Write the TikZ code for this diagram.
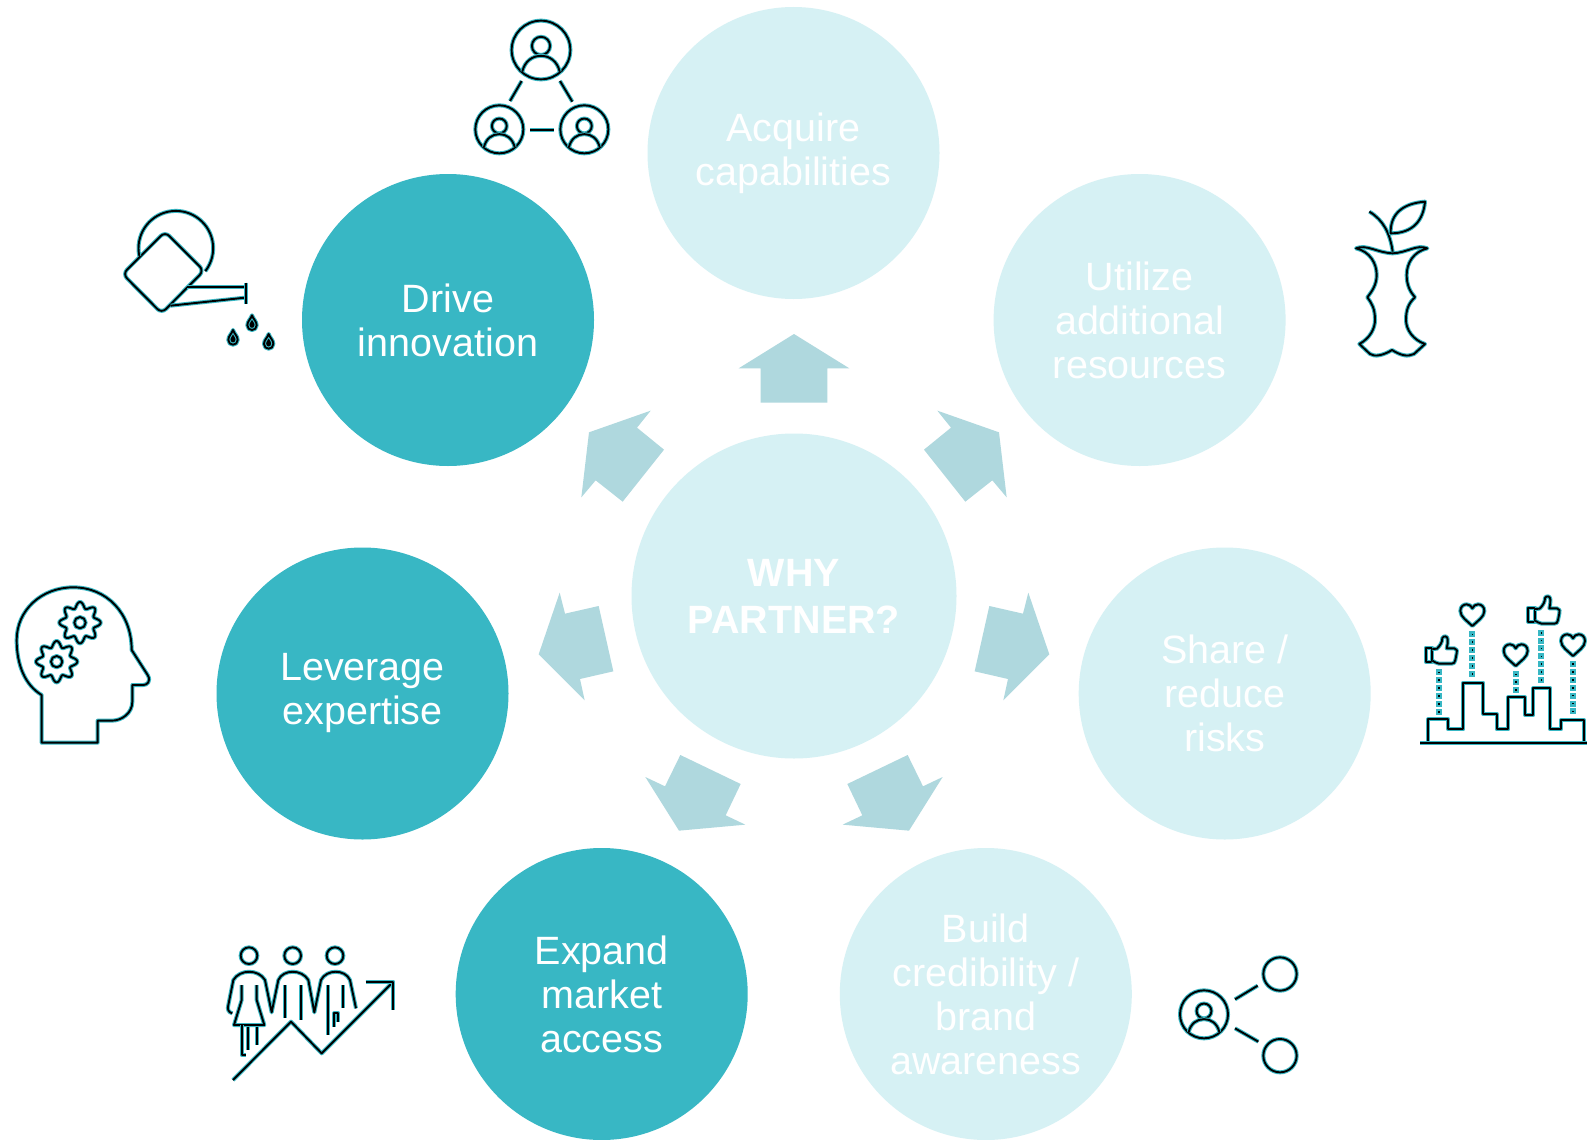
\documentclass[tikz,border=0pt]{standalone}
\usepackage{fontspec}
\setmainfont{Liberation Sans}
\definecolor{tealdark}{HTML}{38B7C4}
\definecolor{teallight}{HTML}{D6F1F4}
\definecolor{arrowblue}{HTML}{AFD8DE}
\definecolor{halo}{HTML}{38B7C4}
\tikzset{
  bubble/.style={circle,minimum size=292pt,inner sep=0pt,outer sep=0pt,align=center,text=white,
    font=\fontsize{39.5}{44}\selectfont},
  bubbleon/.style={bubble,fill=tealdark},
  bubbleoff/.style={bubble,fill=teallight},
  centerbubble/.style={circle,minimum size=325pt,inner sep=0pt,outer sep=0pt,align=center,fill=teallight,
    text=white,font=\fontsize{39.5}{47}\selectfont\bfseries},
  blockarrow/.style={fill=arrowblue},
  ico/.style={draw=halo,double=black,double distance=1.9pt,line width=1.05pt,line join=round},
  zoomed/.style={x=.33333pt,y=-.33333pt},
}
\newcommand{\usericon}[3]{%
  \begin{scope}[shift={(#1,#2)},scale=#3]
    \draw[ico] (0,0) circle (1);
    \draw[ico] (0,-.14) circle (.31);
    \draw[ico] (-.64,.74) .. controls (-.55,.38) and (-.3,.2) .. (0,.2) .. controls (.3,.2) and (.55,.38) .. (.64,.74);
  \end{scope}}
\newcommand{\hearticon}[2]{%
  \begin{scope}[shift={(#1,#2)}]
    \draw[ico] (0,33) .. controls (-15,18) and (-36,6) .. (-36,-12) .. controls (-36,-26) and (-26,-32) .. (-17,-32)
      .. controls (-9,-32) and (-3,-27) .. (0,-20) .. controls (3,-27) and (9,-32) .. (17,-32)
      .. controls (26,-32) and (36,-26) .. (36,-12) .. controls (36,6) and (15,18) .. (0,33) -- cycle;
  \end{scope}}
\newcommand{\thumbicon}[2]{%
  \begin{scope}[shift={(#1,#2)}]
    \draw[ico] (92,203) rectangle (112,245);
    \draw[ico] (112,207) -- (126,206) .. controls (136,196) and (142,186) .. (142,174)
      .. controls (146,166) and (158,168) .. (158,178) .. controls (159,188) and (157,196) .. (155,205)
      -- (178,205) .. controls (187,206) and (187,214) .. (185,220) -- (181,240) .. controls (180,248) and (176,251) .. (170,251)
      -- (132,251) .. controls (124,251) and (118,244) .. (112,242);
  \end{scope}}
\newcommand{\dotcolumn}[3]{%
  \foreach \k in {1,...,#3}{
    \fill[halo] ({#1-9},{#2+(\k-1)*23.7-9}) rectangle ({#1+9},{#2+(\k-1)*23.7+9});
    \fill[black] ({#1-2.5},{#2+(\k-1)*23.7-2.5}) rectangle ({#1+2.5},{#2+(\k-1)*23.7+2.5});
  }}
\newcommand{\gearicon}[2]{%
  \begin{scope}[shift={(#1,#2)}]
    \draw[ico] plot[domain=0:360,samples=145] (\x:{53+9*cos(8*\x)}) -- cycle;
    \draw[ico] (0,0) circle (17);
  \end{scope}}
\newcommand{\dropicon}[2]{%
  \begin{scope}[shift={(#1,#2)}]
    \draw[ico,fill=black] (0,-24) .. controls (4,-12) and (14,-6) .. (14,6) .. controls (14,15) and (7,20) .. (0,20)
      .. controls (-7,20) and (-14,15) .. (-14,6) .. controls (-14,-6) and (-4,-12) .. (0,-24) -- cycle;
  \end{scope}}
\begin{document}
\begin{tikzpicture}[x=1pt,y=-1pt]
\useasboundingbox (0,0) rectangle (1587,1140);
\fill[white] (0,0) rectangle (1587,1140);

% circles
\node[bubbleoff] (acquire) at (793.5,153) {Acquire\\capabilities};
\node[bubbleoff] (utilize) at (1139.6,320) {Utilize\\additional\\resources};
\node[bubbleon] (drive) at (448,320) {Drive\\innovation};
\node[bubbleoff] (share) at (1224.7,693.5) {Share /\\reduce\\risks};
\node[bubbleon] (leverage) at (362.5,693.5) {Leverage\\expertise};
\node[bubbleoff] (build) at (985.8,994) {Build\\credibility /\\brand\\awareness};
\node[bubbleon] (expand) at (601.7,994) {Expand\\market\\access};
\node[centerbubble] (why) at (794,596) {WHY\\PARTNER?};

% block arrows
\begin{scope}[shift={(530,320)},zoomed]
  \fill[blockarrow] (792,42) -- (958,145) -- (892,145) -- (892,248) -- (692,248) -- (692,145) -- (626,145) -- cycle;
  \fill[blockarrow] (1222,272) -- (1407,337) -- (1430,532) -- (1387,481) -- (1306,545) -- (1182,389) -- (1263,323) -- cycle;
  \fill[blockarrow] (362,272) -- (177,337) -- (154,532) -- (197,481) -- (278,545) -- (402,389) -- (321,323) -- cycle;
  \fill[blockarrow] (1495,818) -- (1558,1003) -- (1420,1141) -- (1434,1077) -- (1334,1054) -- (1378,858) -- (1479,881) -- cycle;
  \fill[blockarrow] (89,818) -- (26,1003) -- (164,1141) -- (150,1077) -- (250,1054) -- (206,858) -- (105,881) -- cycle;
  \fill[blockarrow] (1133,1305) -- (1179,1399) -- (1238,1371) -- (1137,1532) -- (938,1514) -- (997,1486) -- (952,1392) -- cycle;
  \fill[blockarrow] (451,1305) -- (405,1399) -- (346,1371) -- (447,1532) -- (646,1514) -- (587,1486) -- (632,1392) -- cycle;
\end{scope}

% network + watering can (zoom 1)
\begin{scope}[shift={(100,0)},zoomed]
  \usericon{1323}{150}{88}
  \usericon{1198}{388}{72}
  \usericon{1453}{388}{72}
  \draw[ico] (1230,303) -- (1265,243);
  \draw[ico] (1380,243) -- (1417,305);
  \draw[ico] (1290,390) -- (1362,390);
  % can
  \draw[ico,rounded corners=6pt] (195,695) -- (312,812) -- (185,940) -- (68,822) -- cycle;
  \draw[ico] (118,768) arc[start angle=168,end angle=398,radius=112];
  \draw[ico] (262,862) -- (435,862);
  \draw[ico] (212,917) -- (435,893);
  \draw[ico] (437,848) -- (437,912);
  \dropicon{456}{970}
  \dropicon{399}{1014}
  \dropicon{506}{1026}
\end{scope}

% apple (zoom 2)
\begin{scope}[shift={(1320,180)},zoomed]
  \draw[ico] (108,205) .. controls (140,192) and (170,218) .. (218,220) .. controls (262,218) and (290,192) .. (322,205)
    .. controls (280,215) and (260,250) .. (260,285) .. controls (260,315) and (270,335) .. (285,352)
    .. controls (265,370) and (258,390) .. (258,420) .. controls (258,450) and (280,480) .. (315,492)
    -- (282,522) .. controls (262,532) and (240,525) .. (216,510) .. controls (192,525) and (165,532) .. (150,522)
    -- (118,492) .. controls (150,475) and (165,445) .. (165,420) .. controls (165,385) and (155,370) .. (142,352)
    .. controls (155,335) and (170,315) .. (170,285) .. controls (170,250) and (150,215) .. (108,205) -- cycle;
  \draw[ico] (148,95) .. controls (190,120) and (210,160) .. (218,215);
  \draw[ico] (212,160) .. controls (210,100) and (250,70) .. (315,65) .. controls (310,120) and (280,160) .. (212,160) -- cycle;
\end{scope}

% city (zoom 3)
\begin{scope}[shift={(1395,580)},zoomed]
  \dotcolumn{131}{277}{6}
  \dotcolumn{232}{163}{6}
  \dotcolumn{362}{283}{3}
  \dotcolumn{439}{158}{7}
  \dotcolumn{534}{252}{7}
  \draw[ico] (100,490) -- (100,418) -- (160,418) -- (160,448) -- (205,448) -- (205,308) -- (265,308) -- (265,402)
    -- (305,402) -- (305,448) -- (340,448) -- (340,352) -- (390,352) -- (390,405) -- (415,405) -- (415,325)
    -- (466,325) -- (466,448) -- (498,448) -- (498,420) -- (567,420) -- (567,490);
  \draw[ico] (75,490) -- (578,490);
  \hearticon{232}{105}
  \hearticon{362}{225}
  \hearticon{534}{195}
  \thumbicon{0}{0}
  \thumbicon{308}{-120}
\end{scope}

% head (zoom 4)
\begin{scope}[shift={(5,570)},zoomed]
  \draw[ico] (110,375) .. controls (60,345) and (35,285) .. (35,210) .. controls (35,120) and (110,52) .. (205,52)
    .. controls (305,52) and (380,130) .. (380,240) -- (428,315) .. controls (440,335) and (425,345) .. (415,345)
    -- (382,345) -- (382,395) .. controls (382,430) and (350,452) .. (320,452) -- (278,452) -- (278,518) -- (110,518) -- cycle;
  \gearicon{225}{158}
  \gearicon{155}{275}
\end{scope}

% people (zoom 5)
\begin{scope}[shift={(215,925)},zoomed]
  \draw[ico] (102,92) circle (25);
  \draw[ico] (233,92) circle (25);
  \draw[ico] (360,92) circle (25);
  \draw[ico] (52,265) .. controls (40,262) and (36,252) .. (40,240) -- (55,165) .. controls (75,132) and (130,132) .. (150,165)
    -- (170,262) -- (190,165) .. controls (205,132) and (260,132) .. (280,165) -- (298,262) -- (318,165)
    .. controls (335,132) and (390,132) .. (405,165) -- (423,250);
  \draw[ico] (80,180) -- (80,225) -- (57,300) -- (148,300) -- (125,225) -- (125,180);
  \draw[ico] (80,300) -- (80,390) -- (92,390);
  \draw[ico] (100,305) -- (100,375);
  \draw[ico] (125,305) -- (125,360);
  \draw[ico] (210,180) -- (210,280);
  \draw[ico] (258,180) -- (258,285);
  \draw[ico] (338,180) -- (338,330);
  \draw[ico] (385,180) -- (385,250);
  \draw[ico] (358,305) -- (358,265) -- (370,265) -- (370,292);
  \draw[ico] (54,465) -- (228,290) -- (320,385) -- (535,170);
  \draw[ico] (452,170) -- (535,170) -- (535,255);
\end{scope}

% share (zoom 6)
\begin{scope}[shift={(1155,935)},zoomed]
  \usericon{147}{238}{72}
  \draw[ico] (375,117) circle (50);
  \draw[ico] (375,362) circle (50);
  \draw[ico] (240,193) -- (308,152);
  \draw[ico] (240,280) -- (310,320);
\end{scope}
\end{tikzpicture}
\end{document}
